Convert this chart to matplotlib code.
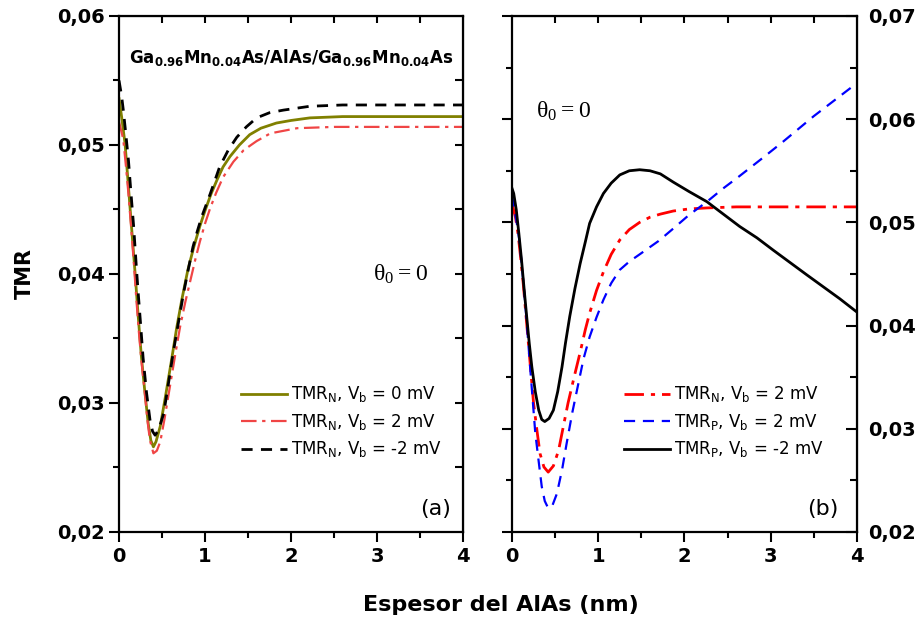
import numpy as np
import matplotlib
matplotlib.use('Agg')
import matplotlib.pyplot as plt
from matplotlib.ticker import MultipleLocator, FuncFormatter

plt.rcParams['mathtext.default'] = 'regular'
plt.rcParams['font.family'] = ['DejaVu Sans']

# ---- panel (a): TMR_N vs AlAs thickness ----
xa_0mV = [0.0, 0.03, 0.07, 0.10, 0.13, 0.16, 0.19, 0.22, 0.26, 0.30, 0.34, 0.37, 0.40,
          0.43, 0.48, 0.54, 0.61, 0.67, 0.73, 0.80, 0.87, 0.94, 1.00, 1.07, 1.14, 1.21,
          1.29, 1.40, 1.52, 1.65, 1.83, 2.0, 2.22, 2.6, 3.0, 3.5, 4.0]
tmr_0mV = [0.0536, 0.0522, 0.0501, 0.0476, 0.0450, 0.0424, 0.0398, 0.0370, 0.0336, 0.0309,
           0.0284, 0.0271, 0.0266, 0.0270, 0.0282, 0.0305, 0.0333, 0.0358, 0.0380, 0.0403,
           0.0421, 0.0437, 0.0449, 0.0462, 0.0473, 0.0483, 0.0491, 0.0500, 0.0508, 0.0513,
           0.0517, 0.0519, 0.0521, 0.0522, 0.0522, 0.0522, 0.0522]

xa_p2mV = [0.0, 0.03, 0.05, 0.08, 0.11, 0.14, 0.17, 0.20, 0.23, 0.26, 0.30, 0.33, 0.36,
           0.40, 0.44, 0.48, 0.53, 0.59, 0.65, 0.71, 0.77, 0.83, 0.89, 0.94, 1.00, 1.06,
           1.13, 1.21, 1.33, 1.45, 1.60, 1.76, 2.07, 2.5, 3.0, 3.5, 4.0]
tmr_p2mV = [0.0518, 0.0510, 0.0504, 0.0484, 0.0462, 0.0437, 0.0411, 0.0382, 0.0356, 0.0333,
            0.0308, 0.0287, 0.0271, 0.0261, 0.0263, 0.0270, 0.0288, 0.0312, 0.0336, 0.0359,
            0.0378, 0.0395, 0.0412, 0.0425, 0.0439, 0.0451, 0.0463, 0.0475, 0.0487, 0.0496,
            0.0503, 0.0509, 0.0513, 0.0514, 0.0514, 0.0514, 0.0514]

xa_m2mV = [0.0, 0.03, 0.05, 0.08, 0.11, 0.14, 0.17, 0.20, 0.22, 0.25, 0.28, 0.32, 0.36,
           0.39, 0.42, 0.46, 0.52, 0.57, 0.63, 0.69, 0.75, 0.81, 0.86, 0.91, 0.96, 1.06,
           1.17, 1.27, 1.37, 1.48, 1.60, 1.75, 1.91, 2.22, 2.6, 3.0, 3.5, 4.0]
tmr_m2mV = [0.0550, 0.0538, 0.0527, 0.0508, 0.0488, 0.0462, 0.0437, 0.0407, 0.0388, 0.0362,
            0.0335, 0.0308, 0.0287, 0.0278, 0.0275, 0.0279, 0.0292, 0.0313, 0.0339, 0.0362,
            0.0385, 0.0405, 0.0421, 0.0433, 0.0444, 0.0462, 0.0483, 0.0496, 0.0506, 0.0514,
            0.0521, 0.0525, 0.0527, 0.0530, 0.0531, 0.0531, 0.0531, 0.0531]

# ---- panel (b) ----
xb_n2 = [0.0, 0.04, 0.07, 0.10, 0.13, 0.16, 0.19, 0.22, 0.25, 0.29, 0.325, 0.37, 0.42,
         0.48, 0.54, 0.59, 0.65, 0.72, 0.79, 0.85, 0.90, 0.98, 1.06, 1.15, 1.25, 1.36,
         1.48, 1.60, 1.72, 1.87, 2.05, 2.26, 2.6, 3.0, 3.5, 4.0]
tmrn_2 = [0.0518, 0.0505, 0.0489, 0.0466, 0.0441, 0.0412, 0.0383, 0.0354, 0.0325, 0.0298,
          0.0276, 0.0263, 0.0258, 0.0264, 0.0279, 0.0300, 0.0325, 0.0350, 0.0374, 0.0396,
          0.0412, 0.0434, 0.0452, 0.0469, 0.0483, 0.0493, 0.0500, 0.0505, 0.0508, 0.0511,
          0.0513, 0.0514, 0.0515, 0.0515, 0.0515, 0.0515]

xb_p2 = [0.0, 0.03, 0.06, 0.09, 0.12, 0.15, 0.18, 0.21, 0.24, 0.27, 0.31, 0.345, 0.38,
         0.42, 0.47, 0.52, 0.58, 0.634, 0.70, 0.77, 0.83, 0.90, 0.98, 1.06, 1.15, 1.25,
         1.36, 1.48, 1.70, 1.87, 2.05, 2.26, 2.45, 2.64, 2.9, 3.14, 3.5, 4.0]
tmrp_2 = [0.0526, 0.0512, 0.0497, 0.0480, 0.0453, 0.0425, 0.0393, 0.0360, 0.0328, 0.0296,
          0.0268, 0.0244, 0.0230, 0.0223, 0.0226, 0.0237, 0.0260, 0.0286, 0.0316, 0.0344,
          0.0368, 0.0389, 0.0408, 0.0425, 0.0441, 0.0454, 0.0462, 0.0469, 0.0482, 0.0494,
          0.0507, 0.0520, 0.0533, 0.0545, 0.0562, 0.0578, 0.0603, 0.0635]

xb_m2 = [0.0, 0.02, 0.05, 0.08, 0.11, 0.14, 0.17, 0.20, 0.23, 0.27, 0.31, 0.345, 0.38,
         0.43, 0.48, 0.53, 0.58, 0.62, 0.67, 0.73, 0.79, 0.85, 0.90, 0.98, 1.06, 1.15,
         1.25, 1.36, 1.48, 1.60, 1.72, 1.87, 2.05, 2.26, 2.45, 2.64, 2.84, 3.03, 3.42,
         3.80, 4.0]
tmrp_m2 = [0.0533, 0.0528, 0.0512, 0.0489, 0.0464, 0.0436, 0.0409, 0.0383, 0.0360, 0.0336,
           0.0318, 0.0309, 0.0307, 0.0310, 0.0318, 0.0336, 0.0360, 0.0383, 0.0409, 0.0436,
           0.0460, 0.0481, 0.0499, 0.0515, 0.0528, 0.0538, 0.0546, 0.0550, 0.0551, 0.0550,
           0.0547, 0.0539, 0.0530, 0.0520, 0.0508, 0.0496, 0.0485, 0.0473, 0.0449, 0.0426,
           0.0413]

comma = FuncFormatter(lambda v, p: ('%.2f' % v).replace('.', ','))


def style_axes(ax, ymin, ymax):
    ax.set_xlim(0, 4)
    ax.set_ylim(ymin, ymax)
    ax.xaxis.set_major_locator(MultipleLocator(1))
    ax.xaxis.set_minor_locator(MultipleLocator(0.5))
    ax.yaxis.set_major_locator(MultipleLocator(0.01))
    ax.yaxis.set_minor_locator(MultipleLocator(0.005))
    ax.tick_params(which='both', direction='out', top=False, right=False, width=1.5)
    ax.tick_params(which='major', length=7)
    ax.tick_params(which='minor', length=4)
    for s in ax.spines.values():
        s.set_linewidth(1.6)
    for lab in ax.get_xticklabels():
        lab.set_fontsize(14)
        lab.set_fontweight('bold')
    # inside ticks on top
    top = ax.secondary_xaxis('top')
    top.set_xticks([0.5, 1, 1.5, 2, 2.5, 3, 3.5])
    top.tick_params(direction='in', length=5, width=1.5, labeltop=False)
    return top


fig = plt.figure(figsize=(9.24, 6.26), dpi=100)
ax1 = fig.add_axes([0.1288, 0.1502, 0.3723, 0.8243])
ax2 = fig.add_axes([0.5541, 0.1502, 0.3734, 0.8243])

# panel (a)
style_axes(ax1, 0.02, 0.06)
ax1.set_yticks([0.02, 0.03, 0.04, 0.05, 0.06])
ax1.yaxis.set_major_formatter(comma)
for lab in ax1.get_yticklabels():
    lab.set_fontsize(14)
    lab.set_fontweight('bold')
r1 = ax1.secondary_yaxis('right')
r1.set_yticks([0.025, 0.03, 0.035, 0.04, 0.045, 0.05, 0.055])
r1.tick_params(direction='in', length=6, width=1.5, labelright=False)

ax1.plot(xa_0mV, tmr_0mV, color='#808000', lw=2, label=r'TMR$_{N}$, V$_{b}$ = 0 mV')
ax1.plot(xa_p2mV, tmr_p2mV, color='#f04545', lw=1.6, ls=(0, (7, 2.5, 1.5, 2.5)),
         label=r'TMR$_{N}$, V$_{b}$ = 2 mV')
ax1.plot(xa_m2mV, tmr_m2mV, color='black', lw=2, ls=(0, (4, 3)),
         label=r'TMR$_{N}$, V$_{b}$ = -2 mV')
ax1.legend(loc='upper left', bbox_to_anchor=(0.31, 0.315), frameon=False, fontsize=12,
           handlelength=2.8, handletextpad=0.25, labelspacing=0.45)
ax1.text(0.5, 0.92, r'Ga$_{0.96}$Mn$_{0.04}$As/AlAs/Ga$_{0.96}$Mn$_{0.04}$As',
         transform=ax1.transAxes, ha='center', va='center', fontsize=12, fontweight='bold')
ax1.text(0.82, 0.5, r'$\theta_{0} = 0$', transform=ax1.transAxes, ha='center', va='center',
         fontsize=17, family='Liberation Serif')
ax1.text(0.92, 0.045, '(a)', transform=ax1.transAxes, ha='center', va='center', fontsize=16)
ax1.set_ylabel('TMR', fontsize=15, fontweight='bold', labelpad=16)

# panel (b)
style_axes(ax2, 0.02, 0.07)
ax2.tick_params(axis='y', labelleft=False)
r2 = ax2.secondary_yaxis('right')
r2.set_yticks([0.02, 0.03, 0.04, 0.05, 0.06, 0.07])
r2.set_yticks([0.025, 0.035, 0.045, 0.055, 0.065], minor=True)
r2.yaxis.set_major_formatter(comma)
r2.tick_params(which='both', direction='in', width=1.5, pad=8)
r2.tick_params(which='major', length=8)
r2.tick_params(which='minor', length=5)
for lab in r2.get_yticklabels():
    lab.set_fontsize(14)
    lab.set_fontweight('bold')

ax2.plot(xb_n2, tmrn_2, color='red', lw=2, ls=(0, (7, 2.5, 1.5, 2.5)),
         label=r'TMR$_{N}$, V$_{b}$ = 2 mV')
ax2.plot(xb_p2, tmrp_2, color='blue', lw=1.6, ls=(0, (5, 3.5)),
         label=r'TMR$_{P}$, V$_{b}$ = 2 mV')
ax2.plot(xb_m2, tmrp_m2, color='black', lw=2, label=r'TMR$_{P}$, V$_{b}$ = -2 mV')
ax2.legend(loc='upper left', bbox_to_anchor=(0.28, 0.315), frameon=False, fontsize=12,
           handlelength=2.8, handletextpad=0.25, labelspacing=0.45)
ax2.text(0.15, 0.815, r'$\theta_{0} = 0$', transform=ax2.transAxes, ha='center', va='center',
         fontsize=17, family='Liberation Serif')
ax2.text(0.9, 0.045, '(b)', transform=ax2.transAxes, ha='center', va='center', fontsize=16)

fig.text(0.542, 0.033, 'Espesor del AlAs (nm)', ha='center', va='center',
         fontsize=16, fontweight='bold')

fig.savefig('out.png', dpi=100)
